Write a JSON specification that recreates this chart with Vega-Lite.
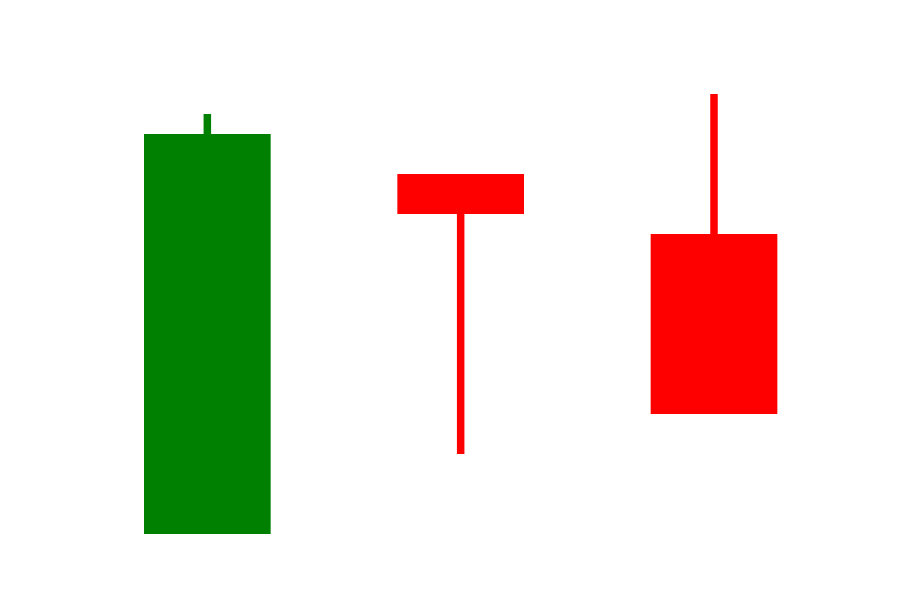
{
  "$schema": "https://vega.github.io/schema/vega-lite/v6.json",
  "autosize": "none",
  "width": 760,
  "height": 600,
  "padding": {"left": 80.67, "right": 59.33, "top": 0, "bottom": 0},
  "background": "white",
  "config": {"view": {"stroke": null}},
  "data": {
    "values": [
      {"day": "A", "open": 10, "close": 30, "high": 31, "low": 10},
      {"day": "B", "open": 28, "close": 26, "high": 28, "low": 14},
      {"day": "C", "open": 25, "close": 16, "high": 32, "low": 16}
    ]
  },
  "encoding": {
    "x": {"field": "day", "type": "nominal", "axis": null,
          "scale": {"type": "band", "paddingInner": 0.5, "paddingOuter": 0.25}},
    "color": {
      "condition": {"test": "datum.open < datum.close", "value": "#008000"},
      "value": "#ff0000"
    }
  },
  "layer": [
    {
      "mark": {"type": "rule", "strokeWidth": 7.5},
      "encoding": {
        "y": {"field": "low", "type": "quantitative", "axis": null,
              "scale": {"domain": [6.7, 36.7], "nice": false, "zero": false}},
        "y2": {"field": "high"}
      }
    },
    {
      "mark": {"type": "bar"},
      "encoding": {
        "y": {"field": "open", "type": "quantitative"},
        "y2": {"field": "close"}
      }
    }
  ]
}
